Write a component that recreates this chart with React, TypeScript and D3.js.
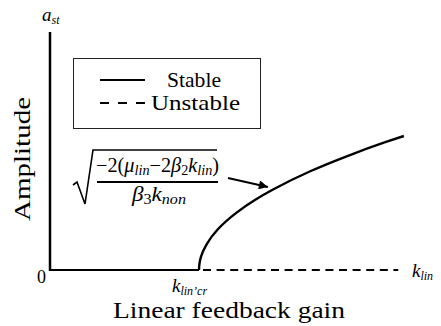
import { useEffect, useRef } from 'react'
import * as d3 from 'd3'

// stable branch (gain k, amplitude)
const stableK = [4, 4.01, 4.05, 4.2, 4.5, 5, 5.5, 6, 7, 8, 9, 9.5]
const stableA = [0, 0.024, 0.054, 0.107, 0.17, 0.24, 0.294, 0.339, 0.416, 0.48, 0.537, 0.563]
// trivial solution: solid below the critical gain, dashed above
const zeroSolidK = [0, 4]
const zeroDashedK = [4, 9.35]
const kCritical = 4
const legendLabels = ['Stable', 'Unstable']

const W = 441
const H = 326
const FONT = '"Liberation Serif", "DejaVu Serif", serif'

export default function App() {
  const svgRef = useRef<SVGSVGElement>(null)

  useEffect(() => {
    document.body.style.margin = '0'
    if (!svgRef.current) return
    const svg = d3.select(svgRef.current)
    svg.selectAll('*').remove()
    svg.attr('width', W).attr('height', H).style('display', 'block').style('background', '#fff')

    const x = d3.scaleLinear().domain([0, 10]).range([50, 422.5])
    const y = d3.scaleLinear().domain([0, 1]).range([270, 32])

    const defs = svg.append('defs')
    defs
      .append('marker')
      .attr('id', 'arrowhead')
      .attr('viewBox', '0 0 10 10')
      .attr('refX', 10)
      .attr('refY', 5)
      .attr('markerWidth', 6)
      .attr('markerHeight', 4.5)
      .attr('markerUnits', 'strokeWidth')
      .attr('orient', 'auto')
      .append('path')
      .attr('d', 'M0,0 L10,5 L0,10 Z')
      .attr('fill', '#000')

    // vertical axis
    svg
      .append('line')
      .attr('x1', x(0))
      .attr('x2', x(0))
      .attr('y1', y(1))
      .attr('y2', y(0) + 1)
      .attr('stroke', '#000')
      .attr('stroke-width', 2.5)

    const line = d3
      .line<[number, number]>()
      .x((d) => x(d[0]))
      .y((d) => y(d[1]))

    svg
      .append('path')
      .attr('d', line(zeroSolidK.map((k) => [k, 0] as [number, number])))
      .attr('stroke', '#000')
      .attr('stroke-width', 2.2)
      .attr('fill', 'none')

    svg
      .append('path')
      .attr('d', line(zeroDashedK.map((k) => [k, 0] as [number, number])))
      .attr('stroke', '#000')
      .attr('stroke-width', 2)
      .attr('stroke-dasharray', '8,5.6')
      .attr('stroke-dashoffset', -4)
      .attr('fill', 'none')

    const curve = d3
      .line<number>()
      .x((d) => x(d))
      .y((_, i) => y(stableA[i]))
      .curve(d3.curveMonotoneY)

    svg
      .append('path')
      .attr('d', curve(stableK))
      .attr('stroke', '#000')
      .attr('stroke-width', 2.4)
      .attr('fill', 'none')

    // legend
    svg
      .append('rect')
      .attr('x', 73.5)
      .attr('y', 58.5)
      .attr('width', 187)
      .attr('height', 70)
      .attr('fill', '#fff')
      .attr('stroke', '#222')
      .attr('stroke-width', 1)

    const legend = svg.append('g')
    legendLabels.forEach((lab, i) => {
      const ly = 80 + i * 23
      legend
        .append('line')
        .attr('x1', 100)
        .attr('x2', 145)
        .attr('y1', ly)
        .attr('y2', ly)
        .attr('stroke', '#000')
        .attr('stroke-width', 2)
        .attr('stroke-dasharray', i === 0 ? null : '9,9')
    })
    legend
      .append('text')
      .attr('x', 167)
      .attr('y', 87)
      .attr('font-family', FONT)
      .attr('font-size', 21)
      .attr('textLength', 54)
      .attr('lengthAdjust', 'spacingAndGlyphs')
      .text(legendLabels[0])
    legend
      .append('text')
      .attr('x', 151)
      .attr('y', 110)
      .attr('font-family', FONT)
      .attr('font-size', 21)
      .attr('textLength', 89)
      .attr('lengthAdjust', 'spacingAndGlyphs')
      .text(legendLabels[1])

    // axis labels
    const aSt = svg.append('text').attr('x', 42).attr('y', 21).attr('font-family', FONT).attr('font-size', 19).attr('font-style', 'italic')
    aSt.append('tspan').text('a')
    aSt.append('tspan').attr('font-size', 12).attr('dy', 3).text('st')

    svg
      .append('text')
      .attr('transform', `translate(30,${159}) rotate(-90)`)
      .attr('text-anchor', 'middle')
      .attr('font-family', FONT)
      .attr('font-size', 24)
      .attr('textLength', 124)
      .attr('lengthAdjust', 'spacingAndGlyphs')
      .text('Amplitude')

    svg
      .append('text')
      .attr('x', x(0) - 4)
      .attr('y', 283)
      .attr('text-anchor', 'end')
      .attr('font-family', FONT)
      .attr('font-size', 18)
      .text('0')

    const kLin = svg.append('text').attr('x', 412).attr('y', 277).attr('font-family', FONT).attr('font-size', 19).attr('font-style', 'italic')
    kLin.append('tspan').text('k')
    kLin.append('tspan').attr('font-size', 12).attr('dy', 3).text('lin')

    const kCr = svg
      .append('text')
      .attr('x', x(kCritical) - 27)
      .attr('y', 292)
      .attr('font-family', FONT)
      .attr('font-size', 19)
      .attr('font-style', 'italic')
    kCr.append('tspan').text('k')
    kCr.append('tspan').attr('font-size', 12).attr('dy', 2.5).text('lin’cr')

    svg
      .append('text')
      .attr('x', 229)
      .attr('y', 318)
      .attr('text-anchor', 'middle')
      .attr('font-family', FONT)
      .attr('font-size', 23)
      .attr('textLength', 232)
      .attr('lengthAdjust', 'spacingAndGlyphs')
      .text('Linear feedback gain')

    // formula annotation
    const f = svg.append('g').attr('font-family', FONT).attr('font-size', 20)
    f.append('path')
      .attr('d', 'M73,185 L77,182 L85,204 L93,150 L217,150')
      .attr('stroke', '#000')
      .attr('stroke-width', 1.6)
      .attr('fill', 'none')
    const num = f
      .append('text')
      .attr('x', 96)
      .attr('y', 172)
      .attr('textLength', 123)
      .attr('lengthAdjust', 'spacingAndGlyphs')
    num.append('tspan').text('−2(')
    num.append('tspan').attr('font-style', 'italic').text('μ')
    num.append('tspan').attr('font-style', 'italic').attr('font-size', 14).attr('dy', 3).text('lin')
    num.append('tspan').attr('dy', -3).text('−2')
    num.append('tspan').attr('font-style', 'italic').text('β')
    num.append('tspan').attr('font-size', 14).attr('dy', 3).text('2')
    num.append('tspan').attr('font-style', 'italic').attr('dy', -3).text('k')
    num.append('tspan').attr('font-style', 'italic').attr('font-size', 14).attr('dy', 3).text('lin')
    num.append('tspan').attr('dy', -3).text(')')
    f.append('line')
      .attr('x1', 97)
      .attr('x2', 218)
      .attr('y1', 182)
      .attr('y2', 182)
      .attr('stroke', '#000')
      .attr('stroke-width', 1.8)
    const den = f
      .append('text')
      .attr('x', 132)
      .attr('y', 201)
      .attr('textLength', 54)
      .attr('lengthAdjust', 'spacingAndGlyphs')
    den.append('tspan').attr('font-style', 'italic').text('β')
    den.append('tspan').attr('font-size', 14).attr('dy', 3).text('3')
    den.append('tspan').attr('font-style', 'italic').attr('dy', -3).text('k')
    den.append('tspan').attr('font-style', 'italic').attr('font-size', 14).attr('dy', 3).text('non')

    svg
      .append('line')
      .attr('x1', 228)
      .attr('y1', 178)
      .attr('x2', x(5.85))
      .attr('y2', y(0.349))
      .attr('stroke', '#000')
      .attr('stroke-width', 2)
      .attr('marker-end', 'url(#arrowhead)')
  }, [])

  return <svg ref={svgRef}></svg>
}
